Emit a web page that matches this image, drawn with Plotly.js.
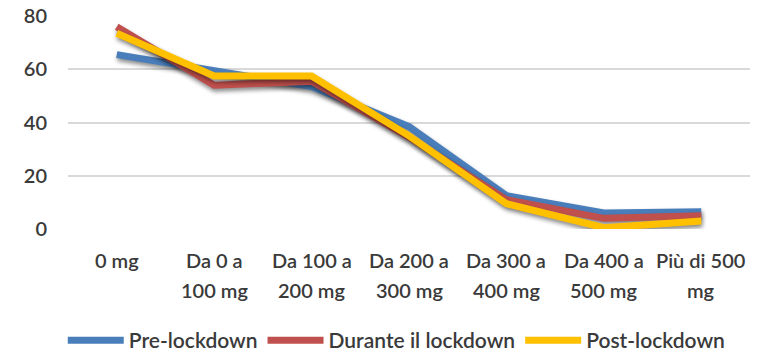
<!DOCTYPE html>
<html>
<head>
<meta charset="utf-8">
<script src="https://cdn.plot.ly/plotly-3.0.1.min.js"></script>
<style>
  html, body { margin: 0; padding: 0; background: #ffffff; }
  #chart { width: 763px; height: 353px; }
  /* soft shadow under each series line */
  #chart .scatterlayer .js-line { filter: drop-shadow(1px 3px 2px rgba(0,0,0,0.45)); }
</style>
</head>
<body>
<div id="chart"></div>
<script>
// Daily intake classes
const categories = ['0 mg', 'Da 0 a 100 mg', 'Da 100 a 200 mg', 'Da 200 a 300 mg',
                    'Da 300 a 400 mg', 'Da 400 a 500 mg', 'Più di 500 mg'];
const labelLine1 = ['0 mg', 'Da 0 a', 'Da 100 a', 'Da 200 a', 'Da 300 a', 'Da 400 a', 'Più di 500'];
const labelLine2 = ['', '100 mg', '200 mg', '300 mg', '400 mg', '500 mg', 'mg'];

// Share of respondents (%) per period
const preLockdown     = [65.5, 59.5, 53.5, 38.5, 12.5, 6.0, 6.5];
const duranteLockdown = [76.0, 54.0, 55.5, 34.5, 11.0, 4.0, 5.0];
const postLockdown    = [73.5, 57.5, 57.5, 35.0,  9.5, 0.5, 3.0];

const seriesNames  = ['Pre-lockdown', 'Durante il lockdown', 'Post-lockdown'];
const seriesValues = [preLockdown, duranteLockdown, postLockdown];
const seriesColors = ['#4a7ebb', '#c0504d', '#ffc000'];

const textColor = '#3a3a3a';
const fontFamily = 'Lato, "Open Sans", sans-serif';

const axisFont   = { family: fontFamily, size: 20, color: textColor, weight: 600 };
const legendFont = { family: fontFamily, size: 21, color: textColor, weight: 600 };

const traces = seriesNames.map((name, i) => ({
  type: 'scatter',
  mode: 'lines',
  name: name,
  x: categories,
  y: seriesValues[i],
  line: { color: seriesColors[i], width: 7 },
  cliponaxis: false,
  hoverinfo: 'skip'
}));

// two-row category labels under the axis
const annotations = [];
categories.forEach((c, i) => {
  annotations.push({ x: c, y: 0, xref: 'x', yref: 'paper', yanchor: 'middle', yshift: -31,
                     text: labelLine1[i], showarrow: false, font: axisFont });
  if (labelLine2[i]) {
    annotations.push({ x: c, y: 0, xref: 'x', yref: 'paper', yanchor: 'middle', yshift: -61,
                       text: labelLine2[i], showarrow: false, font: axisFont });
  }
});

const layout = {
  width: 763,
  height: 353,
  margin: { l: 68, r: 13, t: 16, b: 124 },
  paper_bgcolor: '#ffffff',
  plot_bgcolor: '#ffffff',
  font: axisFont,
  showlegend: true,
  legend: {
    orientation: 'h',
    xref: 'container', yref: 'container',
    x: 0.52, xanchor: 'center',
    y: 0.035, yanchor: 'middle',
    font: legendFont,
    itemwidth: 56,
    traceorder: 'normal'
  },
  xaxis: {
    type: 'category',
    range: [-0.5, categories.length - 0.5],
    showticklabels: false,
    showgrid: false,
    zeroline: false,
    showline: false,
    ticks: '',
    fixedrange: true
  },
  yaxis: {
    range: [0, 80],
    dtick: 20,
    showgrid: true,
    gridcolor: '#d9d9d9',
    gridwidth: 2,
    zeroline: false,
    showline: false,
    ticks: '',
    ticklabelstandoff: 20,
    tickfont: axisFont,
    fixedrange: true
  },
  annotations: annotations
};

Plotly.newPlot('chart', traces, layout, { displayModeBar: false, staticPlot: true });
</script>
</body>
</html>
